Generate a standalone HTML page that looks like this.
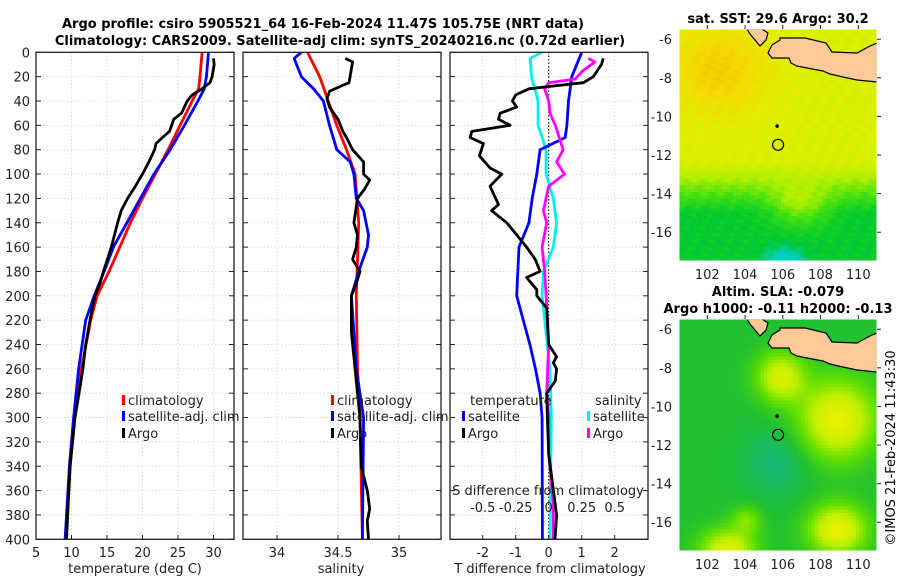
<!DOCTYPE html>
<html><head><meta charset="utf-8"><style>
html,body{margin:0;padding:0;background:#fff;}
svg{display:block;font-family:"DejaVu Sans","Liberation Sans",sans-serif;}
</style></head><body>
<svg id="fig" width="900" height="580" viewBox="0 0 900 580" xmlns="http://www.w3.org/2000/svg">
<defs>
<clipPath id="c1"><rect x="36" y="52" width="198" height="488"/></clipPath>
<clipPath id="c2"><rect x="243" y="52" width="198" height="488"/></clipPath>
<clipPath id="c3"><rect x="450" y="52" width="198" height="488"/></clipPath>
<clipPath id="cm1"><rect x="679" y="29" width="198" height="232"/></clipPath>
<clipPath id="cm2"><rect x="679" y="319" width="198" height="232"/></clipPath>
</defs>
<text x="323" y="28" text-anchor="middle" font-size="13" font-weight="bold">Argo profile: csiro 5905521_64 16-Feb-2024 11.47S 105.75E (NRT data)</text>
<text x="340" y="45" text-anchor="middle" font-size="13" font-weight="bold">Climatology: CARS2009. Satellite-adj clim: synTS_20240216.nc (0.72d earlier)</text>
<g id="grids"></g>
<g id="lines"></g>
<g id="frames"></g>
<g id="maps"></g>
<g id="labels" font-size="13" fill="#222"></g>
</svg>
<script>
// ---- data: depths (dbar) and values ----
const tClimDepth = [0,20,30,40,60,80,100,120,140,160,180,200,220,260,300,340,400];
const tClim = [28.4,28.1,27.9,27.0,25.3,23.6,21.8,20.0,18.3,16.8,15.3,13.6,12.7,11.4,10.4,9.8,9.2];
const tSatDepth = [0,20,30,40,60,80,100,120,140,160,180,200,220,260,300,340,400];
const tSat = [29.3,29.0,28.7,27.8,25.9,23.9,21.6,19.7,17.8,15.9,14.6,13.2,12.0,11.0,10.3,9.7,9.1];
const tArgoDepth = [5,10,20,25,30,35,40,50,55,65,70,75,80,90,100,110,120,130,140,160,180,190,200,220,240,260,275,300,340,400];
const tArgo = [30.0,30.1,29.8,29.5,28.4,27.0,26.3,25.5,24.4,23.8,22.8,21.9,21.7,20.9,20.0,19.0,17.9,17.0,16.5,15.6,14.5,14.0,13.3,12.6,12.0,11.6,11.2,10.5,9.8,9.3];

const sClimDepth = [0,20,40,60,80,100,140,200,260,300,400];
const sClim = [34.25,34.35,34.42,34.49,34.57,34.64,34.67,34.65,34.66,34.68,34.70];
const sSatDepth = [0,5,20,30,40,60,80,90,100,120,130,150,160,180,200,260,300,400];
const sSat = [34.20,34.14,34.20,34.30,34.38,34.43,34.49,34.60,34.63,34.65,34.71,34.75,34.74,34.67,34.61,34.65,34.71,34.70];
const sArgoDepth = [5,8,25,28,32,38,45,55,65,70,80,90,100,105,112,120,140,150,160,170,180,190,200,230,260,280,300,340,360,375,385,400];
const sArgo = [34.56,34.62,34.59,34.52,34.43,34.41,34.43,34.50,34.54,34.57,34.62,34.71,34.71,34.76,34.72,34.66,34.63,34.66,34.65,34.62,34.68,34.65,34.61,34.61,34.64,34.66,34.68,34.69,34.74,34.76,34.74,34.75];

const dtSatDepth = [0,20,40,60,70,80,100,120,140,160,200,220,240,260,280,300,400];
const dtSat = [1.0,0.7,0.6,0.55,0.5,-0.26,-0.36,-0.5,-0.6,-0.9,-0.97,-0.77,-0.57,-0.4,-0.26,-0.2,-0.19];
const dtArgoDepth = [5,10,20,25,28,30,35,40,45,50,55,60,65,70,75,85,95,100,110,125,130,140,150,160,170,180,185,195,200,210,240,250,255,260,270,280,300,330,380,400];
const dtArgo = [1.65,1.6,1.35,1.05,0.04,-0.6,-1.0,-1.1,-0.97,-1.47,-1.52,-1.17,-2.33,-2.38,-1.98,-2.1,-1.78,-1.42,-1.78,-1.52,-1.73,-1.27,-0.97,-0.67,-0.41,-0.26,-0.67,-0.36,-0.36,-0.06,0.0,0.24,0.14,0.24,0.2,-0.06,-0.04,0.0,0.24,0.19];
const dsSatDepth = [0,5,20,40,60,80,100,120,140,160,180,200,220,260,300,400];
const dsSat = [-0.05,-0.14,-0.13,-0.08,-0.08,-0.02,-0.02,0.035,0.06,0.035,-0.04,-0.05,-0.03,0.01,0.02,0.01];
const dsArgoDepth = [5,8,15,22,25,30,40,50,60,80,90,100,110,130,140,160,180,200,240,280,300,330,370,400];
const dsArgo = [0.3,0.35,0.26,0.2,0.0,-0.03,0.0,0.01,0.05,0.11,0.06,0.12,0.0,-0.04,-0.015,-0.05,-0.03,-0.02,0.0,-0.015,0.0,0.0,0.035,0.035];

const depthTicks = [0,20,40,60,80,100,120,140,160,180,200,220,240,260,280,300,320,340,360,380,400];
const tTicks = [5,10,15,20,25,30];
const sTicks = [34,34.5,35];
const sTickLabels = ["34","34.5","35"];
const dtTicks = [-2,-1,0,1,2];
const dsTicks = [-0.5,-0.25,0,0.25,0.5];
const dsTickLabels = ["-0.5","-0.25","0","0.25","0.5"];
const lonTicks = [102,104,106,108,110];
const latTicks = [-6,-8,-10,-12,-14,-16];

// ---- axes ----
const yD = d => 52.3 + d*1.2175;
const xT = v => 36 + (v-5)*7.1;
const xS = v => 277 + (v-34)*122;
const xDT = v => 548.7 + v*33;
const xDS = v => 548.7 + v*132;
const mLon = v => 679 + (v-100.5)*18.875;
const mLat = (v,off) => off + 29 + (-5.47 - v)*19.3;

const NS='http://www.w3.org/2000/svg';
function mk(tag, attrs, parent){const e=document.createElementNS(NS,tag);for(const k in attrs)e.setAttribute(k,attrs[k]);parent.appendChild(e);return e;}
const G=document.getElementById('grids'),L=document.getElementById('lines'),F=document.getElementById('frames'),M=document.getElementById('maps'),T=document.getElementById('labels');

const panels=[{x:36,xs:tTicks.map(xT)},{x:243,xs:sTicks.map(xS)},{x:450,xs:dtTicks.map(xDT)}];
panels.forEach((p,i)=>{
  depthTicks.forEach(d=>{
    const g=mk('line',{x1:p.x,x2:p.x+198,y1:yD(d),y2:yD(d),stroke:'#cdd1ec','stroke-width':0.8,'stroke-dasharray':'1.5,2'},G);
    
    
    const t1=mk('line',{x1:p.x,x2:p.x+5,y1:yD(d),y2:yD(d),stroke:'#222'},F);
    
    
    const t2=mk('line',{x1:p.x+193,x2:p.x+198,y1:yD(d),y2:yD(d),stroke:'#222'},F);
    
    
  });
  p.xs.forEach(x=>{
    const g=mk('line',{x1:x,x2:x,y1:52,y2:540,stroke:'#cdd1ec','stroke-width':0.8,'stroke-dasharray':'1.5,2'},G);
    
    
    const t=mk('line',{x1:x,x2:x,y1:535,y2:540,stroke:'#222'},F);
    
    
  });
  const r=mk('rect',{x:p.x,y:52.3,width:198,height:487,fill:'none',stroke:'#222','stroke-width':1.3},F);
  
  
});
const zl=mk('line',{x1:xDT(0),x2:xDT(0),y1:52,y2:540,stroke:'#000','stroke-width':1,'stroke-dasharray':'1.5,2'},G);



function series(depths, vals, xf, color, clip, name){
  const pts=depths.map((d,i)=>xf(vals[i]).toFixed(1)+','+yD(d).toFixed(1)).join(' ');
  const e=mk('polyline',{points:pts,fill:'none',stroke:color,'stroke-width':2.8,'stroke-linejoin':'round','clip-path':'url(#'+clip+')'},L);
  
  
}
series(tClimDepth,tClim,xT,'#ff0000','c1','temperature-climatology-line');
series(tSatDepth,tSat,xT,'#0000ff','c1','temperature-satellite-line');
series(tArgoDepth,tArgo,xT,'#000','c1','temperature-argo-line');
series(sClimDepth,sClim,xS,'#ff0000','c2','salinity-climatology-line');
series(sSatDepth,sSat,xS,'#0000ff','c2','salinity-satellite-line');
series(sArgoDepth,sArgo,xS,'#000','c2','salinity-argo-line');
series(dsSatDepth,dsSat,xDS,'#00f0f0','c3','salinity-diff-satellite-line');
series(dtSatDepth,dtSat,xDT,'#0000ff','c3','temperature-diff-satellite-line');
series(dsArgoDepth,dsArgo,xDS,'#ff00ff','c3','salinity-diff-argo-line');
series(dtArgoDepth,dtArgo,xDT,'#000','c3','temperature-diff-argo-line');

function txt(x,y,s,opts,name){
  const e=mk('text',Object.assign({x:x,y:y},opts||{}),T);
  e.textContent=s;
  
  
  return e;
}
depthTicks.forEach(d=>txt(30,yD(d)+5,String(d),{'text-anchor':'end'},'depth-tick-label'));
tTicks.forEach(v=>txt(xT(v),557,String(v),{'text-anchor':'middle'},'temperature-tick-label'));
sTicks.forEach((v,i)=>txt(xS(v),557,sTickLabels[i],{'text-anchor':'middle'},'salinity-tick-label'));
dtTicks.forEach(v=>txt(xDT(v),557,String(v),{'text-anchor':'middle'},'t-diff-tick-label'));
dsTicks.forEach((v,i)=>txt(xDS(v),512,dsTickLabels[i],{'text-anchor':'middle'},'s-diff-tick-label'));
txt(135,573,'temperature (deg C)',{'text-anchor':'middle'},'temperature-axis-title');
txt(341,573,'salinity',{'text-anchor':'middle'},'salinity-axis-title');
txt(550,573,'T difference from climatology',{'text-anchor':'middle'},'t-diff-axis-title');
txt(548,495,'S difference from climatology',{'text-anchor':'middle'},'s-diff-axis-title');

function legend(x,y,color,label,name){
  const m=mk('rect',{x:x,y:y-10,width:3,height:10,fill:color},T);
  
  
  txt(x+6,y,label,{},name);
}
legend(122,405,'#ff0000','climatology','legend-climatology');
legend(122,421,'#0000ff','satellite-adj. clim','legend-satellite-adj');
legend(122,438,'#000','Argo','legend-argo');
legend(331,405,'#ff0000','climatology','legend-climatology-2');
legend(331,421,'#0000ff','satellite-adj. clim','legend-satellite-adj-2');
legend(331,438,'#000','Argo','legend-argo-2');
txt(470,405,'temperature',{},'legend-temperature-heading');
legend(462,421,'#0000ff','satellite','legend-t-satellite');
legend(462,438,'#000','Argo','legend-t-argo');
txt(595,405,'salinity',{},'legend-salinity-heading');
legend(587,421,'#00f0f0','satellite','legend-s-satellite');
legend(587,438,'#ff00ff','Argo','legend-s-argo');

// ---- maps ----
function lerpStops(stops,s){
  s=Math.max(0,Math.min(1,s));
  for(let i=1;i<stops.length;i++){if(s<=stops[i][0]){const a=stops[i-1],b=stops[i],t=(s-a[0])/(b[0]-a[0]);
    return 'rgb('+[0,1,2].map(k=>Math.round(a[1][k]+(b[1][k]-a[1][k])*t)).join(',')+')';}}
  return 'rgb('+stops[stops.length-1][1].join(',')+')';
}
const gs=(lon,lat,lo,la,s1,s2)=>Math.exp(-((lon-lo)*(lon-lo)/s1+(lat-la)*(lat-la)/s2));
const sstStops=[[0,[0,208,200]],[0.15,[0,200,48]],[0.35,[64,224,16]],[0.55,[176,240,0]],[0.75,[224,240,0]],[0.9,[245,216,0]],[1,[245,192,0]]];
const slaStops=[[0,[16,184,144]],[0.2,[32,192,48]],[0.4,[96,224,0]],[0.6,[192,240,0]],[0.8,[232,240,0]],[1,[240,240,0]]];
function sst(lon,lat){
  let s=0.72+0.22*gs(lon,lat,102.5,-7.5,8,6);
  const south=Math.max(0,Math.min(1,(-lat-12.3)/2.6));
  const tongue=gs(lon,lat,106.8,-14.3,2.5,1.5);
  s-=south*0.55*(1-0.6*tongue);
  s-=0.25*gs(lon,lat,106,-17.6,1.2,0.8);
  s+=0.04*Math.sin(lon*7+lat*5)*Math.cos(lat*9);
  return s;
}
function sla(lon,lat){
  let s=0.2-0.15*gs(lon,lat,105.6,-12.8,3,3);
  s+=0.6*gs(lon,lat,108.8,-10.6,4,4);
  s+=0.6*gs(lon,lat,108.8,-16.3,2.2,1.6);
  s+=0.5*gs(lon,lat,105.8,-8.4,1.6,1.6);
  s+=0.55*gs(lon,lat,103,-17.4,2,1.2);
  s+=0.25*gs(lon,lat,104,-15.8,0.6,0.5);
  return s;
}
const landPoly=[[780,38],[805,38],[826,43],[832,52],[857,53],[870,46],[877,43],[877,82],[857,80],[843,77],[830,74],[823,71],[807,68],[797,66],[791,63],[789,58],[772,58],[768,53],[772,45],[780,40]];
const landPoly2=[[747,29],[762,29],[768,33],[766,40],[760,46],[755,40],[750,34]];
function drawMap(off,fn,stops,name){
  const g=mk('g',{'clip-path':'url(#cm'+(off?2:1)+')'},M);
  
  
  const cs=3.4;
  for(let y=29+off;y<261+off;y+=cs){for(let x=679;x<877;x+=cs){
    const lon=100.5+(x-679)/18.875, lat=-5.47-(y-off-29)/19.3;
    mk('rect',{x:x.toFixed(1),y:y.toFixed(1),width:cs+0.4,height:cs+0.4,fill:lerpStops(stops,fn(lon,lat))},g);
  }}
  [landPoly,landPoly2].forEach((poly,i)=>{
    const l=mk('polygon',{points:poly.map(p=>p[0]+','+(p[1]+off)).join(' '),fill:'#fcc997',stroke:'#000','stroke-width':1.2},g);
    
    
  });
  const st=mk('circle',{cx:mLon(105.7),cy:mLat(-10.5,off),r:1.8,fill:'#000'},g);
  
  
  const c=mk('circle',{cx:mLon(105.75),cy:mLat(-11.47,off),r:5.5,fill:'none',stroke:'#000','stroke-width':1.2},g);
  
  
  const f=mk('rect',{x:679,y:29+off,width:198,height:232,fill:'none',stroke:'#fff','stroke-width':1},M);
  
  
  lonTicks.forEach(v=>{
    txt(mLon(v),279+off,String(v),{'text-anchor':'middle'},'longitude-tick-label');
    const t=mk('line',{x1:mLon(v),x2:mLon(v),y1:25+off,y2:29+off,stroke:'#222'},M);
    
    
  });
  latTicks.forEach(v=>{
    txt(672,mLat(v,off)+5,String(v),{'text-anchor':'end'},'latitude-tick-label');
    const t=mk('line',{x1:877,x2:881,y1:mLat(v,off),y2:mLat(v,off),stroke:'#222'},M);
    
    
  });
}
drawMap(0,sst,sstStops,'sst-map');
drawMap(290,sla,slaStops,'sla-map');
txt(778,23,'sat. SST: 29.6 Argo: 30.2',{'text-anchor':'middle','font-weight':'bold','font-size':13,fill:'#000'},'sst-map-title');
txt(778,296,'Altim. SLA: -0.079',{'text-anchor':'middle','font-weight':'bold','font-size':13,fill:'#000'},'sla-map-title');
txt(778,313,'Argo h1000: -0.11 h2000: -0.13',{'text-anchor':'middle','font-weight':'bold','font-size':13,fill:'#000'},'sla-map-subtitle');
txt(0,0,'©IMOS 21-Feb-2024 11:43:30',{'text-anchor':'middle',transform:'translate(895,448) rotate(-90)',fill:'#000'},'imos-timestamp');
</script>
</body></html>
